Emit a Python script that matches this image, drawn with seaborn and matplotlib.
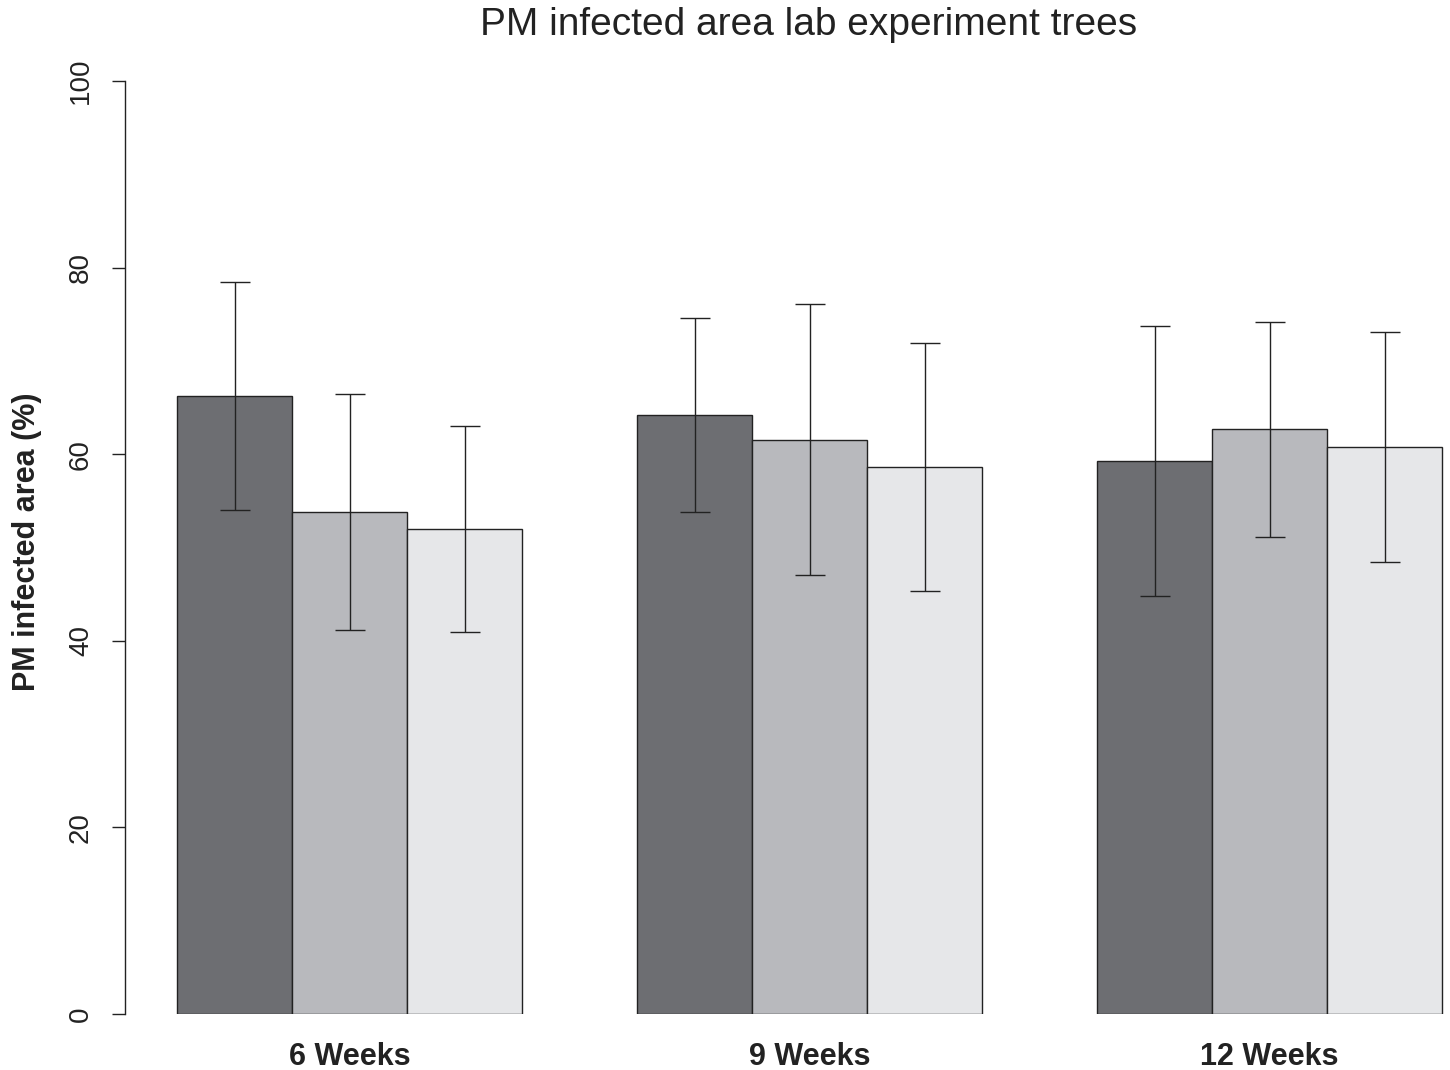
import matplotlib
matplotlib.use("Agg")
import matplotlib.pyplot as plt
import seaborn as sns
import pandas as pd
import numpy as np

# ---- data ----
categories = ["6 Weeks", "9 Weeks", "12 Weeks"]
series = ["Group 1", "Group 2", "Group 3"]
means_g1 = [66.2, 64.2, 59.3]
means_g2 = [53.8, 61.5, 62.7]
means_g3 = [52.0, 58.6, 60.8]
lower_g1 = [54.0, 53.8, 44.8]
lower_g2 = [41.2, 47.0, 51.1]
lower_g3 = [40.9, 45.3, 48.4]
upper_g1 = [78.5, 74.6, 73.7]
upper_g2 = [66.5, 76.1, 74.2]
upper_g3 = [63.0, 71.9, 73.1]
yticks = [0, 20, 40, 60, 80, 100]
colors = ["#6d6e72", "#b8b9bd", "#e6e7e9"]

means = [means_g1, means_g2, means_g3]
lowers = [lower_g1, lower_g2, lower_g3]
uppers = [upper_g1, upper_g2, upper_g3]

rows = []
for s, m in zip(series, means):
    for c, v in zip(categories, m):
        rows.append({"time": c, "group": s, "value": v})
df = pd.DataFrame(rows)

sns.set_style("white")
plt.rcParams["font.family"] = ["Liberation Sans", "DejaVu Sans"]

W, H = 1450, 1070
fig = plt.figure(figsize=(W / 100, H / 100), dpi=100)
ax_left, ax_right = 125, 1450
ax_top, ax_bot = 81, 1014
ax = fig.add_axes([ax_left / W, (H - ax_bot) / H, (ax_right - ax_left) / W, (ax_bot - ax_top) / H])

sns.barplot(data=df, x="time", y="value", hue="group", order=categories,
            hue_order=series, palette=colors, width=0.75, errorbar=None,
            edgecolor="#222222", linewidth=1.0, saturation=1, legend=False, ax=ax)

for cont, m, lo, up in zip(ax.containers, means, lowers, uppers):
    xs = [b.get_x() + b.get_width() / 2 for b in cont]
    m = np.array(m); lo = np.array(lo); up = np.array(up)
    ax.errorbar(xs, m, yerr=[m - lo, up - m], fmt="none", ecolor="#222222",
                elinewidth=1.0, capsize=10.5, capthick=1.0, zorder=5)

# x range so category spacing is 460 px
x0 = (ax_left - 349.5) / 460
x1 = (ax_right - 349.5) / 460
ax.set_xlim(x0, x1)
ax.set_ylim(0, 100)

for sp in ["top", "right", "bottom"]:
    ax.spines[sp].set_visible(False)
ax.spines["left"].set_color("#222222")
ax.spines["left"].set_linewidth(1.0)

ax.set_yticks(yticks)
ax.set_yticklabels([str(t) for t in yticks], rotation=90, va="center", fontsize=20, color="#222222")
ax.tick_params(axis="y", left=True, length=9.4, width=1.0, color="#222222", pad=13)
ax.tick_params(axis="x", bottom=False, length=0, pad=20)
for lab in ax.get_xticklabels():
    lab.set_fontweight("bold")
    lab.set_fontsize(22)
    lab.set_color("#222222")

ax.set_xlabel("")
ax.set_ylabel("PM infected area (%)", fontsize=22, fontweight="bold", color="#222222")
ax.yaxis.set_label_coords((42 - ax_left) / (ax_right - ax_left), 0.506)

fig.text(809 / W, 1 - 25 / H, "PM infected area lab experiment trees",
         ha="center", va="center", fontsize=28, color="#222222")

fig.savefig("out.png", dpi=100)
